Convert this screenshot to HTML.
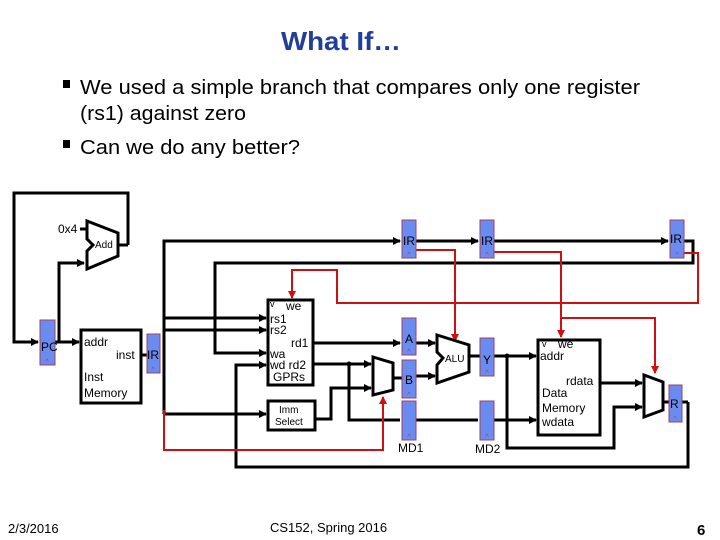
<!DOCTYPE html>
<html><head><meta charset="utf-8"><style>
html,body{margin:0;padding:0;background:#fff;}
svg{display:block;font-family:"Liberation Sans",sans-serif;}
</style></head><body>
<svg width="720" height="540" viewBox="0 0 720 540" xmlns="http://www.w3.org/2000/svg">
<defs>
<marker id="a" markerWidth="8" markerHeight="8" refX="7" refY="4" orient="auto" markerUnits="userSpaceOnUse"><path d="M0,0 L8,4 L0,8z" fill="#000"/></marker>
<marker id="r" markerWidth="8" markerHeight="8" refX="7" refY="4" orient="auto" markerUnits="userSpaceOnUse"><path d="M0,0 L8,4 L0,8z" fill="#d01010"/></marker>
</defs>
<text x="341" y="50" text-anchor="middle" font-size="26" font-weight="bold" fill="#1f3f99" textLength="120" lengthAdjust="spacingAndGlyphs">What If…</text>
<rect x="63" y="80" width="7" height="8" fill="#000"/>
<text x="80" y="94" font-size="20" textLength="560" lengthAdjust="spacingAndGlyphs">We used a simple branch that compares only one register</text>
<text x="80" y="120" font-size="20" textLength="166" lengthAdjust="spacingAndGlyphs">(rs1) against zero</text>
<rect x="63" y="140" width="7" height="8" fill="#000"/>
<text x="80" y="154" font-size="20" textLength="220" lengthAdjust="spacingAndGlyphs">Can we do any better?</text>

<g fill="none" stroke="#000" stroke-width="3">
<!-- PC loop -->
<polyline points="128,245 128,193 14,193 14,342 38,342" marker-end="url(#a)"/>
<polyline points="59,342 59,263 84,263" marker-end="url(#a)"/>
<polyline points="55,342 79,342" marker-end="url(#a)"/>
<line x1="80" y1="229" x2="87" y2="229"/>
<line x1="118" y1="245" x2="128" y2="245"/>
<line x1="141" y1="355" x2="147" y2="355"/>
<!-- IR distribution -->
<polyline points="164,414 164,241 400,241" marker-end="url(#a)"/>
<polyline points="164,318 266,318" marker-end="url(#a)"/>
<polyline points="164,330 266,330" marker-end="url(#a)"/>
<polyline points="164,414 266,414" marker-end="url(#a)"/>
<polyline points="416,241 478,241" marker-end="url(#a)"/>
<polyline points="494,241 668,241" marker-end="url(#a)"/>
<polyline points="684,241 693,241 693,263 215,263 215,353 266,353" marker-end="url(#a)"/>
<polyline points="688,402 688,467 236,467 236,365 266,365" marker-end="url(#a)"/>
<line x1="682" y1="402" x2="688" y2="402"/>
<!-- rd1 rd2 -->
<polyline points="313,343 400,343" marker-end="url(#a)"/>
<polyline points="313,364 371,364" marker-end="url(#a)"/>
<polyline points="349,364 349,420 400,420"/>
<polyline points="416,420 478,420"/>
<polyline points="494,420 536,420" marker-end="url(#a)"/>
<polyline points="315,419 331,419 331,388 371,388" marker-end="url(#a)"/>
<polyline points="393,378 402,378"/>
<polyline points="416,343 435,343" marker-end="url(#a)"/>
<polyline points="416,376 435,376" marker-end="url(#a)"/>
<polyline points="469,356 480,356"/>
<polyline points="494,356 536,356" marker-end="url(#a)"/>
<polyline points="507,356 507,448 614,448 614,407 642,407" marker-end="url(#a)"/>
<polyline points="600,383 642,383" marker-end="url(#a)"/>
<polyline points="663,402 669,402"/>
</g>
<circle cx="349" cy="364" r="2.5"/><circle cx="507" cy="356" r="2.5"/>
<g fill="none" stroke="#d01010" stroke-width="2">
<polyline points="164,410 164,450 383,450 383,397" marker-end="url(#r)"/>
<polyline points="684,253 698,253 698,303 337,303 337,270 292,270 292,298" marker-end="url(#r)"/>
<polyline points="416,250 455,250 455,341" marker-end="url(#r)"/>
<polyline points="494,252 561,252 561,337" marker-end="url(#r)"/>
<polyline points="561,318 655,318 655,373" marker-end="url(#r)"/>
</g>
<!-- shapes -->
<g fill="#fff" stroke="#000" stroke-width="3">
<polygon points="87,221 118,233 118,256 87,269 87,251 93,245 87,239"/>
<rect x="81" y="330" width="60" height="73"/>
<rect x="268" y="300" width="45" height="85"/>
<rect x="268" y="401" width="47" height="29"/>
<polygon points="373,357 393,363 393,390 373,395"/>
<polygon points="437,335 469,345 469,372 437,383 437,365 443,358 437,352"/>
<rect x="538" y="340" width="62" height="95"/>
<polygon points="644,375 663,382 663,410 644,417"/>
</g>
<!-- registers -->
<g fill="#6a8cf0" stroke="#a04060" stroke-width="1">
<rect x="40" y="320" width="15" height="45"/>
<rect x="147" y="334" width="13" height="39"/>
<rect x="402" y="220" width="14" height="38"/>
<rect x="480" y="220" width="14" height="38"/>
<rect x="670" y="220" width="14" height="38"/>
<rect x="402" y="318" width="14" height="37"/>
<rect x="402" y="360" width="14" height="38"/>
<rect x="402" y="401" width="14" height="39"/>
<rect x="480" y="338" width="14" height="38"/>
<rect x="480" y="401" width="14" height="39"/>
<rect x="669" y="385" width="13" height="37"/>
</g>
<g font-size="7" fill="#a04060" text-anchor="middle">
<text x="47" y="364">^</text><text x="153" y="372">^</text>
<text x="409" y="257">^</text><text x="487" y="257">^</text><text x="677" y="257">^</text>
<text x="409" y="354">^</text><text x="409" y="397">^</text><text x="409" y="439">^</text>
<text x="487" y="375">^</text><text x="487" y="439">^</text><text x="675" y="421">^</text>
</g>
<g font-size="12" fill="#000">
<text x="41" y="351">PC</text><text x="147" y="359">IR</text>
<text x="403" y="245">IR</text><text x="481" y="245">IR</text><text x="670" y="243">IR</text>
<text x="405" y="343">A</text><text x="405" y="384">B</text><text x="483" y="364">Y</text>
<text x="670" y="408">R</text>
<text x="58" y="233">0x4</text>
<text x="84" y="346">addr</text><text x="116" y="359">inst</text>
<text x="84" y="381">Inst</text><text x="84" y="397">Memory</text>
<text x="270" y="323">rs1</text><text x="270" y="334">rs2</text>
<text x="291" y="347">rd1</text><text x="270" y="358">wa</text><text x="270" y="369">wd rd2</text>
<text x="273" y="381">GPRs</text><text x="286" y="310">we</text><text x="270" y="307" font-size="9">v</text>
<text x="540" y="360">addr</text><text x="558" y="348">we</text><text x="542" y="347" font-size="9">v</text>
<text x="566" y="385">rdata</text><text x="542" y="397">Data</text><text x="542" y="412">Memory</text>
<text x="542" y="426">wdata</text>
<text x="398" y="452">MD1</text><text x="475" y="453">MD2</text>
</g>
<g font-size="10"><text x="95" y="248">Add</text><text x="445" y="362">ALU</text>
<text x="279" y="413">Imm</text><text x="275" y="425">Select</text></g>
<text x="8" y="533" font-size="13">2/3/2016</text>
<text x="270" y="532" font-size="13">CS152, Spring 2016</text>
<text x="697" y="535" font-size="15" font-weight="bold">6</text>
</svg>
</body></html>
